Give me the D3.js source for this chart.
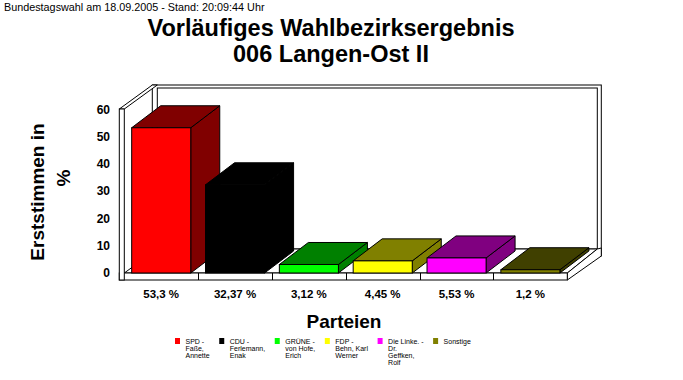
<!DOCTYPE html>
<html><head><meta charset="utf-8">
<script src="https://cdn.jsdelivr.net/npm/d3@7"></script>
<style>
html,body{margin:0;padding:0;background:#fff;}
svg{display:block;font-family:Arial,"Liberation Sans",sans-serif;}
</style></head>
<body>
<script>
// ---- data ----
const parties = ["SPD", "CDU", "GRÜNE", "FDP", "Die Linke.", "Sonstige"];
const values = [53.3, 32.37, 3.12, 4.45, 5.53, 1.2];
const valueLabels = ["53,3 %", "32,37 %", "3,12 %", "4,45 %", "5,53 %", "1,2 %"];
const legendLabels = [
  ["SPD -", "Faße,", "Annette"],
  ["CDU -", "Ferlemann,", "Enak"],
  ["GRÜNE -", "von Hofe,", "Erich"],
  ["FDP -", "Behn, Karl", "Werner"],
  ["Die Linke. -", "Dr.", "Geffken,", "Rolf"],
  ["Sonstige"]
];
const yTicks = [0, 10, 20, 30, 40, 50, 60];
const frontColors = ["#ff0000", "#000000", "#00ff00", "#ffff00", "#ff00ff", "#808000"];
const darkColors = ["#800000", "#000000", "#008000", "#808000", "#800080", "#404000"];
const titleLines = ["Vorläufiges Wahlbezirksergebnis", "006 Langen-Ost II"];
const subtitle = "Bundestagswahl am 18.09.2005 - Stand: 20:09:44 Uhr";

// ---- layout ----
const W = 683, H = 380;
const svg = d3.select("body").append("svg").attr("width", W).attr("height", H);

const x = d3.scaleBand().domain(parties).range([124.3, 567.3]).paddingInner(0.2).paddingOuter(0.1);
const y = d3.scaleLinear().domain([0, 60]).range([273, 109.5]);

const D = {dx: 33, dy: -24};     // wall depth
const B = {dx: 29, dy: -22};     // bar depth
const wallT = 5, floorT = 7;
const x0 = x.range()[0], x1 = x.range()[1];
const yb = y(0), yt = y(60) - 0.5;

const poly = pts => "M" + pts.map(p => p.join(",")).join("L") + "Z";
const g = svg.append("g").attr("stroke", "#000").attr("stroke-width", 1).attr("stroke-linejoin", "miter");

// back wall
g.append("rect").attr("x", x0 - wallT + D.dx).attr("y", yt + D.dy)
  .attr("width", (x1 + D.dx + 1) - (x0 - wallT + D.dx)).attr("height", (yb + floorT + D.dy) - (yt + D.dy))
  .attr("fill", "#fff");
g.append("rect").attr("x", x0 + D.dx).attr("y", yt + D.dy + 3)
  .attr("width", (x1 + D.dx - 3) - (x0 + D.dx)).attr("height", (yb + D.dy) - (yt + D.dy + 3))
  .attr("fill", "#fff");
// floor top
g.append("path").attr("fill", "#fff").attr("d", poly([[x0, yb], [x1, yb], [x1 + D.dx - 3, yb + D.dy], [x0 + D.dx, yb + D.dy]]));
// floor right face
g.append("path").attr("fill", "#fff").attr("d", poly([[x1, yb], [x1, yb + floorT], [x1 + D.dx + 1, yb + floorT + D.dy], [x1 + D.dx + 1, yb + D.dy - 1], [x1 + D.dx - 3, yb + D.dy]]));
// floor front face
g.append("rect").attr("x", x0 - wallT).attr("y", yb).attr("width", x1 - (x0 - wallT)).attr("height", floorT).attr("fill", "#fff");
// category separators on floor front
const step = x.step();
d3.range(1, parties.length).forEach(i => {
  const xx = Math.round(x0 + i * step) + 0.5;
  g.append("line").attr("x1", xx).attr("x2", xx).attr("y1", yb).attr("y2", yb + floorT);
});
// left wall
g.append("path").attr("fill", "#fff").attr("d", poly([[x0 - wallT, yt], [x0, yt], [x0 + D.dx, yt + D.dy], [x0 - wallT + D.dx, yt + D.dy]]));
g.append("rect").attr("x", x0 - wallT).attr("y", yt).attr("width", wallT).attr("height", yb + floorT - yt).attr("fill", "#fff");

// bars
parties.forEach((p, i) => {
  const bx = x(p), bw = x.bandwidth(), by = y(values[i]), bh = yb - by;
  const bg = g.append("g");
  bg.append("path").attr("fill", darkColors[i])
    .attr("d", poly([[bx + bw, by], [bx + bw + B.dx, by + B.dy], [bx + bw + B.dx, yb + B.dy], [bx + bw, yb]]));
  bg.append("path").attr("fill", darkColors[i])
    .attr("d", poly([[bx, by], [bx + B.dx, by + B.dy], [bx + bw + B.dx, by + B.dy], [bx + bw, by]]));
  bg.append("rect").attr("x", bx).attr("y", by).attr("width", bw).attr("height", bh).attr("fill", frontColors[i]);
});

// y tick labels
svg.append("g").selectAll("text").data(yTicks).join("text")
  .attr("x", 110).attr("y", d => y(d)).attr("dy", "0.35em")
  .attr("text-anchor", "end").attr("font-size", 12).attr("font-weight", "bold")
  .text(d => d);

// category labels
svg.append("g").selectAll("text").data(parties).join("text")
  .attr("x", d => x(d) + x.bandwidth() / 2).attr("y", 298)
  .attr("text-anchor", "middle").attr("font-size", 11.5).attr("font-weight", "bold")
  .text((d, i) => valueLabels[i]);

// titles
svg.append("text").attr("x", 4).attr("y", 11).attr("font-size", 10.8).text(subtitle);
titleLines.forEach((t, i) => {
  svg.append("text").attr("x", 331).attr("y", 36 + i * 26).attr("text-anchor", "middle")
    .attr("font-size", 23.5).attr("font-weight", "bold").text(t);
});
svg.append("text").attr("x", 344).attr("y", 328).attr("text-anchor", "middle")
  .attr("font-size", 19).attr("font-weight", "bold").text("Parteien");
svg.append("text").attr("transform", "translate(44,192) rotate(-90)").attr("text-anchor", "middle")
  .attr("font-size", 19).attr("font-weight", "bold").text("Erststimmen in");
svg.append("text").attr("transform", "translate(70,178) rotate(-90)").attr("text-anchor", "middle")
  .attr("font-size", 19).attr("font-weight", "bold").text("%");

// legend
const lg = svg.append("g");
let lx = 175;
legendLabels.forEach((lines, i) => {
  lg.append("rect").attr("x", lx).attr("y", 338).attr("width", 5).attr("height", 6).attr("fill", frontColors[i]);
  let maxW = 0;
  lines.forEach((t, j) => {
    const tx = lg.append("text").attr("x", lx + 10.5).attr("y", 343.8 + j * 7.1)
      .attr("font-size", 7).attr("fill", "#000").text(t);
    maxW = Math.max(maxW, tx.node().getComputedTextLength());
  });
  lx = lx + 10.5 + maxW + 9.6;
});
</script>
</body></html>
